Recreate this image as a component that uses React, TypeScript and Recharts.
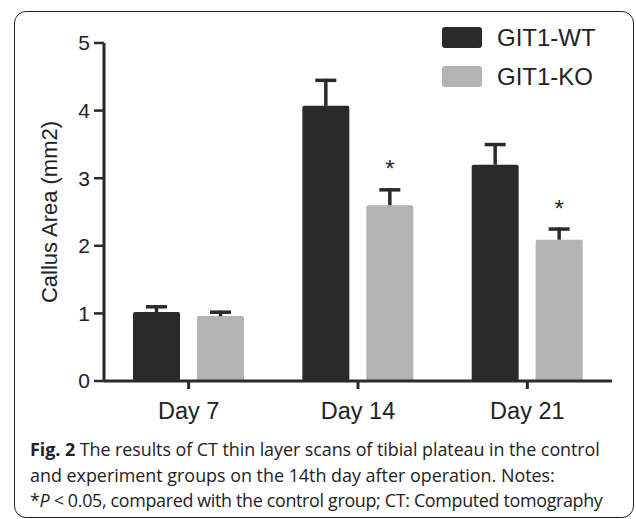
import React from "react"
import { BarChart, Bar, XAxis, YAxis } from "recharts"

const days = ["Day 7", "Day 14", "Day 21"]
const wtMean = [1.02, 4.07, 3.2]
const wtErr = [0.1, 0.4, 0.32]
const koMean = [0.96, 2.6, 2.09]
const koErr = [0.08, 0.25, 0.18]
const koSignificant = [false, true, true]
const yTicks = [0, 1, 2, 3, 4, 5]
const seriesNames = ["GIT1-WT", "GIT1-KO"]

const DARK = "#2a2a2a"
const LIGHT = "#b3b3b3"
const AXIS_FONT = "'Liberation Sans', Arial, sans-serif"

const chartData = days.map((day, i) => ({
  day,
  wt: wtMean[i],
  wtErr: wtErr[i],
  ko: koMean[i],
  koErr: koErr[i],
  sig: koSignificant[i],
}))

// bar with an upward-only error bar, scaled from the bar's own geometry
function BarWithError(props: any) {
  const { x, y, width, height, fill, value, err, star } = props
  const pxPerUnit = value ? height / value : 0
  const top = y - err * pxPerUnit
  const cx = x + width / 2
  return (
    <g>
      <rect x={x} y={y} width={width} height={height} fill={fill} rx={2} ry={2} />
      <line x1={cx} x2={cx} y1={y} y2={top} stroke={DARK} strokeWidth={3.5} />
      <line x1={cx - 10.5} x2={cx + 10.5} y1={top + 1.5} y2={top + 1.5} stroke={DARK} strokeWidth={3.5} />
      {star && (
        <text x={cx} y={top - 11} textAnchor="middle" fontSize={24} fontFamily={AXIS_FONT} fill={DARK}>
          *
        </text>
      )}
    </g>
  )
}

function LegendBox() {
  const colors = [DARK, LIGHT]
  return (
    <div style={{ position: "absolute", left: 442, top: 18 }}>
      {seriesNames.map((name, i) => (
        <div key={name} style={{ display: "flex", alignItems: "center", height: 39 }}>
          <div style={{ width: 40, height: 21, background: colors[i], borderRadius: 3 }} />
          <span style={{ marginLeft: 15, fontSize: 24, fontFamily: AXIS_FONT, color: "#222" }}>{name}</span>
        </div>
      ))}
    </div>
  )
}

export default function App() {
  return (
    <div style={{ position: "absolute", left: 0, top: 0, width: 636, height: 519, background: "#fff", overflow: "hidden" }}>
      <div
        style={{
          position: "absolute",
          left: 14,
          top: 11,
          width: 620,
          height: 507,
          border: "1.5px solid #222",
          borderRadius: 12,
          boxSizing: "border-box",
        }}
      />
      <div style={{ position: "absolute", left: 0, top: 0 }}>
        <BarChart
          width={636}
          height={519}
          data={chartData}
          margin={{ top: 43, right: 24, bottom: 98, left: 44 }}
          barGap={17}
          barSize={47}
        >
          <XAxis
            dataKey="day"
            axisLine={{ stroke: DARK, strokeWidth: 3 }}
            tickLine={{ stroke: DARK, strokeWidth: 3 }}
            tickSize={8}
            tickMargin={13}
            tick={{ fontSize: 23.5, fontFamily: AXIS_FONT, fill: "#222" }}
            height={40}
          />
          <YAxis
            width={60}
            domain={[0, 5]}
            ticks={yTicks}
            interval={0}
            axisLine={{ stroke: DARK, strokeWidth: 3 }}
            tickLine={{ stroke: DARK, strokeWidth: 2.5 }}
            tickSize={10}
            tickMargin={4}
            tick={{ fontSize: 21, fontFamily: AXIS_FONT, fill: "#222" }}
            label={{
              value: "Callus Area (mm2)",
              angle: -90,
              position: "insideLeft",
              offset: 5,
              style: { textAnchor: "middle", fontSize: 22, fontFamily: AXIS_FONT, fill: "#222" },
            }}
          />
          <Bar
            dataKey="wt"
            name={seriesNames[0]}
            fill={DARK}
            isAnimationActive={false}
            shape={(p: any) => <BarWithError {...p} fill={DARK} value={p.payload.wt} err={p.payload.wtErr} />}
          />
          <Bar
            dataKey="ko"
            name={seriesNames[1]}
            fill={LIGHT}
            isAnimationActive={false}
            shape={(p: any) => (
              <BarWithError {...p} fill={LIGHT} value={p.payload.ko} err={p.payload.koErr} star={p.payload.sig} />
            )}
          />
        </BarChart>
      </div>
      <LegendBox />
      <div
        style={{
          position: "absolute",
          left: 30,
          top: 437,
          width: 600,
          fontFamily: "'Open Sans', sans-serif",
          fontSize: 17.9,
          lineHeight: "25.5px",
          color: "#222",
        }}
      >
        <div style={{ whiteSpace: "nowrap", letterSpacing: -0.05 }}>
          <b>Fig. 2</b> The results of CT thin layer scans of tibial plateau in the control
        </div>
        <div style={{ whiteSpace: "nowrap" }}>and experiment groups on the 14th day after operation. Notes:</div>
        <div style={{ whiteSpace: "nowrap", letterSpacing: -0.33 }}>
          *<i>P</i> &lt; 0.05, compared with the control group; CT: Computed tomography
        </div>
      </div>
    </div>
  )
}
